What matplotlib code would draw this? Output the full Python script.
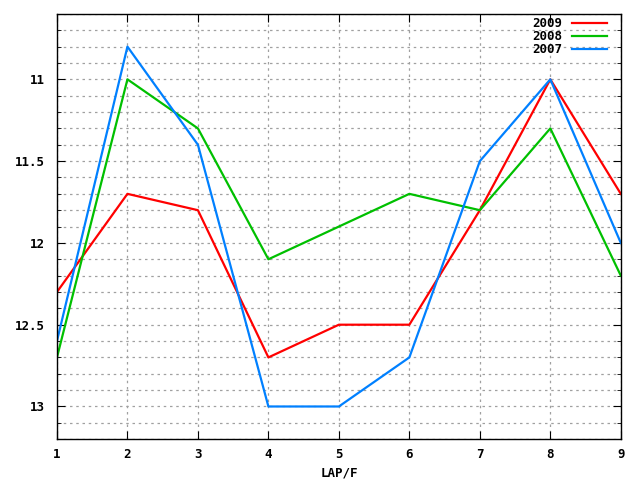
import numpy as np
import matplotlib
matplotlib.use('Agg')
import matplotlib.pyplot as plt
from matplotlib.ticker import MultipleLocator

# laps and lap times per year
laps = [1, 2, 3, 4, 5, 6, 7, 8, 9]
y2009 = [12.3, 11.7, 11.8, 12.7, 12.5, 12.5, 11.8, 11.0, 11.7]
y2008 = [12.7, 11.0, 11.3, 12.1, 11.9, 11.7, 11.8, 11.3, 12.2]
y2007 = [12.6, 10.8, 11.4, 13.0, 13.0, 12.7, 11.5, 11.0, 12.0]
years = ['2009', '2008', '2007']
colors = ['#ff0000', '#00c000', '#0080ff']

plt.rcParams['font.family'] = 'DejaVu Sans Mono'
plt.rcParams['font.weight'] = 'bold'

fig = plt.figure(figsize=(6.4, 4.8), dpi=100)
ax = fig.add_axes([0.089, 0.085, 0.881, 0.886])

for vals, lab, c in zip([y2009, y2008, y2007], years, colors):
    ax.plot(laps, vals, color=c, lw=1.6, label=lab)

ax.set_xlim(1, 9)
ax.set_ylim(13.2, 10.6)
ax.xaxis.set_major_locator(MultipleLocator(1))
ax.yaxis.set_major_locator(MultipleLocator(0.5))
ax.yaxis.set_minor_locator(MultipleLocator(0.1))
ax.yaxis.set_major_formatter(plt.FuncFormatter(lambda v, p: f'{v:g}'))

ax.grid(True, which='both', axis='y', color='#a0a0a0', ls=(0, (2, 3)), lw=0.9)
ax.grid(True, which='major', axis='x', color='#a0a0a0', ls=(0, (2, 3)), lw=0.9)

ax.tick_params(which='both', direction='in', top=True, right=True, labelsize=9)
ax.tick_params(axis='x', pad=6)
ax.tick_params(axis='y', pad=9)
ax.tick_params(which='major', length=6)
ax.tick_params(which='minor', length=3)
for s in ax.spines.values():
    s.set_linewidth(1.0)

ax.set_xlabel('LAP/F', fontsize=9, fontweight='bold', labelpad=4)

leg = ax.legend(loc='upper right', frameon=False, markerfirst=False, fontsize=9,
                handlelength=2.8, handletextpad=0.8, labelspacing=0.0,
                borderaxespad=0.0, bbox_to_anchor=(0.985, 1.004))

fig.savefig('out.png', dpi=100)
